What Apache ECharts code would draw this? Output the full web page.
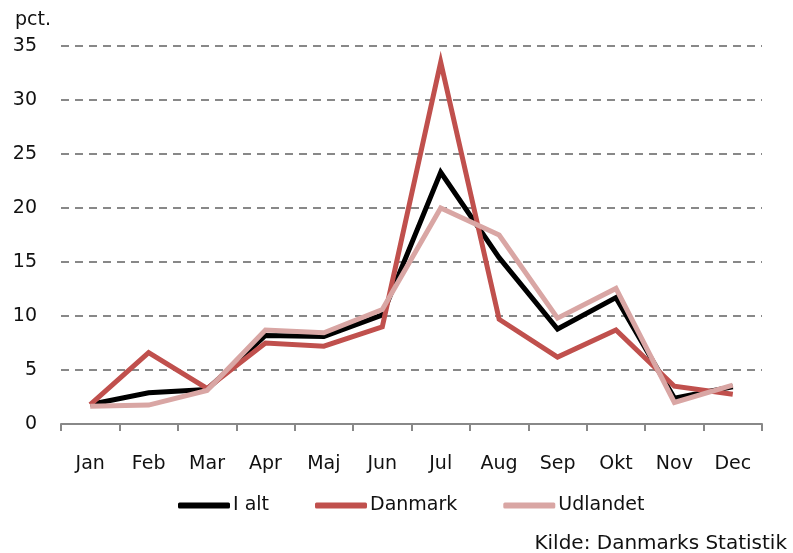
<!DOCTYPE html>
<html>
<head>
<meta charset="utf-8">
<script src="https://cdn.jsdelivr.net/npm/echarts@6/dist/echarts.min.js"></script>
<style>
  html, body { margin: 0; padding: 0; background: #fff; }
  #chart { width: 793px; height: 553px; }
</style>
</head>
<body>
<div id="chart"></div>
<script>
let months = ['Jan', 'Feb', 'Mar', 'Apr', 'Maj', 'Jun', 'Jul', 'Aug', 'Sep', 'Okt', 'Nov', 'Dec'];
let iAlt = [1.8, 2.9, 3.2, 8.2, 8.1, 10.1, 23.3, 15.4, 8.8, 11.7, 2.4, 3.45];
let danmark = [1.8, 6.6, 3.3, 7.5, 7.2, 9.0, 33.5, 9.7, 6.2, 8.7, 3.5, 2.75];
let udlandet = [1.65, 1.75, 3.1, 8.7, 8.45, 10.6, 20.0, 17.5, 9.8, 12.55, 2.0, 3.6];
let yTicks = [0, 5, 10, 15, 20, 25, 30, 35];

let font = 'DejaVu Sans';
let myChart = echarts.init(document.getElementById('chart'));

function lineSeries(name, data, color) {
    return {
        name: name,
        type: 'line',
        data: data,
        symbol: 'none',
        lineStyle: { color: color, width: 5, join: 'miter' },
        itemStyle: { color: color },
        z: 3
    };
}

myChart.setOption({
    animation: false,
    grid: { left: 61, right: 31, top: 46, bottom: 129 },
    legend: {
        left: 173,
        top: 491,
        icon: 'roundRect',
        itemWidth: 52,
        itemHeight: 6,
        itemGap: 46,
        textStyle: { fontFamily: font, fontSize: 19, color: '#111', padding: [0, 0, 0, -2] },
        data: ['I alt', 'Danmark', 'Udlandet']
    },
    xAxis: {
        type: 'category',
        data: months,
        boundaryGap: true,
        axisLine: { lineStyle: { color: '#888', width: 2 } },
        axisTick: { show: true, length: 7, lineStyle: { color: '#888', width: 2 } },
        axisLabel: { fontFamily: font, fontSize: 19, color: '#111', margin: 31 },
        splitLine: { show: false }
    },
    yAxis: {
        type: 'value',
        min: yTicks[0],
        max: yTicks[yTicks.length - 1],
        interval: 5,
        axisLine: { show: false },
        axisTick: { show: false },
        axisLabel: { fontFamily: font, fontSize: 19, color: '#111', margin: 24 },
        splitLine: { lineStyle: { color: '#888', width: 2, type: [8, 6] } }
    },
    graphic: [
        { type: 'text', left: 15, top: 11, style: { text: 'pct.', fontFamily: font, fontSize: 19, fill: '#111' } },
        { type: 'text', right: 6, top: 534, style: { text: 'Kilde: Danmarks Statistik', fontFamily: font, fontSize: 20, fill: '#111' } }
    ],
    series: [
        lineSeries('I alt', iAlt, '#000000'),
        lineSeries('Danmark', danmark, '#C0504D'),
        lineSeries('Udlandet', udlandet, '#D9A6A4')
    ]
});
</script>
</body>
</html>
